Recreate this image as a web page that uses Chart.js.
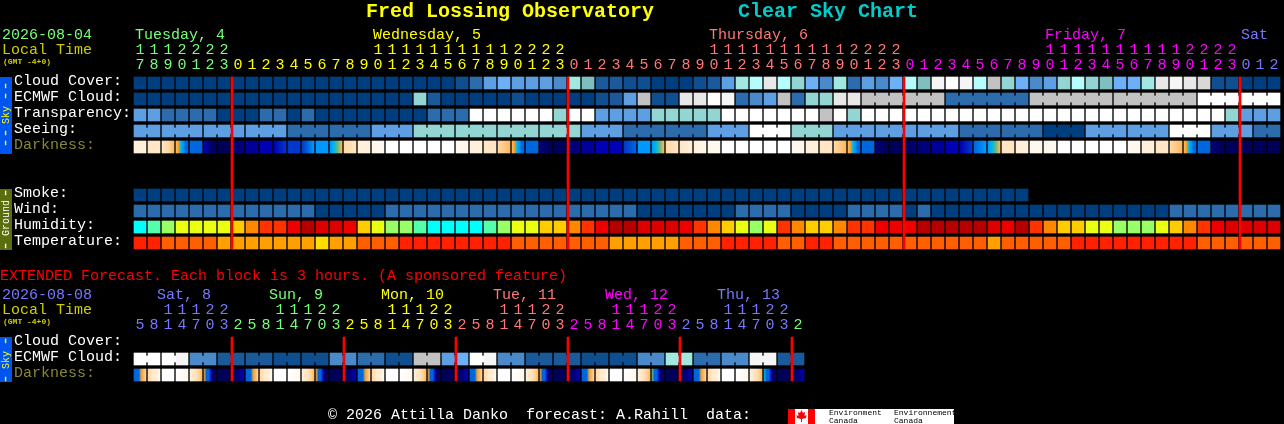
<!DOCTYPE html>
<html><head><meta charset="utf-8">
<style>html,body{margin:0;padding:0;background:#000;overflow:hidden}canvas{display:block}</style>
<script src="https://cdn.jsdelivr.net/npm/chart.js@4"></script>
</head><body><canvas id="c" width="1284" height="424"></canvas>
<script>
// ---- data: sky levels index skyPalette ----
const cloudCover=[0,0,0,0,0,0,0,0,0,0,0,0,0,0,0,0,0,0,0,0,0,0,0,1,3,5,6,5,5,5,4,9,7,2,2,1,1,0,0,0,1,2,5,9,10,13,10,8,6,4,9,3,5,4,6,10,7,14,15,14,10,11,8,6,4,5,8,10,8,7,6,6,9,13,14,13,12,1,1,0,0,0];
const ecmwfCloud=[0,0,0,0,0,0,0,0,0,0,0,0,0,0,0,0,0,0,0,0,8,2,0,0,0,0,0,1,0,0,0,0,0,1,2,5,11,1,1,13,13,15,14,3,4,5,11,3,8,8,13,13,11,11,11,11,11,11,3,3,3,3,3,3,11,11,11,11,11,11,11,11,11,11,11,11,15,15,15,15,15,15];
const transparency=[5,5,3,3,3,3,0,0,0,3,3,0,3,0,0,0,0,0,0,0,0,3,3,3,15,15,15,15,15,15,8,15,15,5,5,5,5,8,8,8,8,8,15,15,15,15,15,15,15,11,15,8,15,15,15,15,15,15,15,15,15,15,15,15,15,15,15,15,15,15,15,15,15,15,15,15,15,15,8,5,5,5];
const seeing=[5,5,5,5,5,5,5,5,5,5,5,3,3,3,3,3,3,5,5,5,8,8,8,8,8,8,8,8,8,8,8,8,5,5,5,3,3,3,3,3,3,5,5,5,15,15,15,8,8,8,5,5,5,5,5,5,5,5,5,3,3,3,3,3,3,0,0,0,5,5,5,5,5,5,15,15,15,5,5,5,3,3];
const smoke=[0,0,0,0,0,0,0,0,0,0,0,0,0,0,0,0,0,0,0,0,0,0,0,0,0,0,0,0,0,0,0,0,0,0,0,0,0,0,0,0,0,0,0,0,0,0,0,0,0,0,0,0,0,0,0,0,0,0,0,0,0,0,0,0];
const wind=[3,3,3,3,3,3,3,3,3,3,3,3,3,0,0,0,0,0,3,3,3,3,3,3,3,3,3,3,3,3,3,3,3,3,3,3,0,0,0,0,0,0,0,3,3,3,3,0,0,0,0,3,3,3,3,0,3,0,0,0,0,0,0,0,0,0,0,0,0,0,0,0,0,0,3,3,3,3,3,3,3,3];
// humidity levels index humidityPalette (0 wettest-cool end … 9 dark red)
const humidity=[0,1,2,3,3,3,3,4,5,6,6,7,9,8,8,7,4,3,2,2,1,0,0,0,0,1,2,3,3,4,4,5,6,7,9,9,8,8,8,7,6,5,4,3,2,3,6,5,4,4,5,6,6,7,7,7,9,9,9,9,9,8,7,9,6,5,4,4,3,3,2,2,2,3,4,5,6,7,8,8,8,8];
// temperature levels index temperaturePalette
const temperature=[0,0,1,1,1,1,2,2,2,2,2,2,2,3,2,2,1,1,1,0,0,0,0,0,0,0,0,1,1,1,1,1,1,1,2,2,2,2,2,1,1,1,0,0,0,0,1,1,0,0,1,1,1,1,1,1,1,1,1,1,1,2,1,1,1,1,1,0,0,0,0,0,0,0,0,0,1,1,1,1,1,1];
// darkness: each block lists levels (index darknessPalette) read left to right
const darkness=[[2,2],[3,3],[3,4,5],[5,6,8,9,10,10],[10,10],[12,14,15],[15,15],[14,14],[13,13],[12,12],[12,11],[11,11],[11,10,9],[9,9],[9,8,7,5],[4,3],[2,2],[1,1],[0],[0],[0],[0],[0],[1,1],[2,2],[3,3],[4,5],[5,6,8,9,10,10],[10,10],[14,15],[15,15],[14,14],[13,13],[12,12],[12,12],[11,10],[9,9],[9,8,7,5],[4,3],[3,2],[2,1],[1,1],[0],[0],[0],[0],[0],[1,1],[2,2],[3,3],[4,5],[5,6,8,9,10,10],[10,10],[14,15],[15,15],[15,14],[14,14],[13,13],[12,12],[12,11],[10,9],[9,8,7,5],[3,3],[2,2],[1,1],[1,1],[0],[0],[0],[0],[0],[1,1],[2,2],[3,3],[4,5],[5,6,8,9,10,10],[10,10],[14,15],[15,15],[15,15],[15,15],[15,15]];
const extEcmwf=[15,15,15,14,4,4,2,2,2,2,1,1,1,1,4,4,3,3,1,1,11,11,5,6,15,14,4,4,2,2,2,2,1,1,1,1,4,4,9,9,3,3,4,4,14,14,2,2];
const extDarkness=[[10,10,10,6,5,4],[4,3,2,1],[0],[0,1],[2,3,4,5],[6,10,10,12,15,15],[15,15],[15,14,12],[10,10,10,6,5,4],[4,3,2,1],[0],[0,1],[2,3,4,5],[6,10,10,12,15,15],[15,15],[15,14,12],[10,10,10,6,5,4],[4,3,2,1],[0],[0,1],[2,3,4,5],[6,10,10,12,15,15],[15,15],[15,14,12],[10,10,10,6,5,4],[4,3,2,1],[0],[0,1],[2,3,4,5],[6,10,10,12,15,15],[15,15],[15,14,12],[10,10,10,6,5,4],[4,3,2,1],[0],[0,1],[2,3,4,5],[7,10,10,12,15,15],[15,15],[15,14,12],[10,10,10,6,5,4],[4,3,2,1],[0],[0,1],[2,3,4,5],[8,10,10,12,15,15],[15,15],[15,14,12]];
// time labels
const hoursMain=[7,8,9,0,1,2,3,0,1,2,3,4,5,6,7,8,9,0,1,2,3,4,5,6,7,8,9,0,1,2,3,0,1,2,3,4,5,6,7,8,9,0,1,2,3,4,5,6,7,8,9,0,1,2,3,0,1,2,3,4,5,6,7,8,9,0,1,2,3,4,5,6,7,8,9,0,1,2,3,0,1,2];
const tensMain=['1','1','1','2','2','2','2','','','','','','','','','','','1','1','1','1','1','1','1','1','1','1','2','2','2','2','','','','','','','','','','','1','1','1','1','1','1','1','1','1','1','2','2','2','2','','','','','','','','','','','1','1','1','1','1','1','1','1','1','1','2','2','2','2','','',''];
const hoursExt=[5,8,1,4,7,0,3,2,5,8,1,4,7,0,3,2,5,8,1,4,7,0,3,2,5,8,1,4,7,0,3,2,5,8,1,4,7,0,3,2,5,8,1,4,7,0,3,2];
const tensExt=['','','1','1','1','2','2','','','','1','1','1','2','2','','','','1','1','1','2','2','','','','1','1','1','2','2','','','','1','1','1','2','2','','','','1','1','1','2','2',''];
const daysMain=[['Tuesday, 4',0],['Wednesday, 5',17],['Thursday, 6',41],['Friday, 7',65],['Sat',79]];
const daysExt=[['Sat, 8',2],['Sun, 9',10],['Mon, 10',18],['Tue, 11',26],['Wed, 12',34],['Thu, 13',42]];
const dayStartsMain=[0,7,31,55,79];
const dayStartsExt=[0,7,15,23,31,39,47];
const midnightsMain=[7,31,55,79];
const midnightsExt=[7,15,23,31,39,47];
const rowLabels=['Cloud Cover:','ECMWF Cloud:','Transparency:','Seeing:','Darkness:'];
const groundLabels=['Smoke:','Wind:','Humidity:','Temperature:'];
const extLabels=['Cloud Cover:','ECMWF Cloud:','Darkness:'];

// ---- styles ----
const skyPalette=['#003f7f','#0f4f8f','#1a5a9a','#2c6cad','#4a8acb','#5e9fe3','#6eb0f8','#7fbfbf','#93d5d3','#a0e8e0','#b5fdfd','#c2c2c2','#d8d8d8','#e8e8e8','#f5f5f5','#ffffff'];
const humidityPalette=['#00ffff','#55ffaa','#99ff66','#eaff11','#ffcc00','#ff8800','#ff3300','#ee0000','#dd0000','#b60000'];
const temperaturePalette=['#ff2200','#ff5f00','#ffa000','#ffdd00'];
const darknessPalette=['#ffffff','#fff8ee','#fff0dc','#ffe6c4','#ffd8a8','#ffb860','#f0a030','#70b878','#00b8e8','#0098ff','#0066dd','#0038cc','#0000b4','#000098','#000078','#000058'];
const dayColors=['#77ff77','#ffff00','#ff7777','#ff00ff','#7777ff'];
const dayColorsExt=['#7777ff','#77ff77','#ffff00','#ff7777','#ff00ff','#7777ff','#77ff77'];
const MONO='"Liberation Mono"';
const FONT='15px '+MONO;

const rowH=0.375, linkH=0.1875;
const R={cloud:0,ecmwf:1,transp:2,seeing:3,dark:4,smoke:7,wind:8,hum:9,temp:10,xEcmwf:17.25,xDark:18.25};

function row(values,y,palette){
  return {data:values.map((v,i)=>({x:i,y:[y-rowH,y+rowH]})),
    backgroundColor:values.map(v=>palette[v]),barThickness:12,borderWidth:0,order:5};
}
function links(values,y,palette,pairs){
  return {data:pairs.map(i=>({x:i+0.5,y:[y-linkH,y+linkH]})),
    backgroundColor:pairs.map(i=>palette[values[i]]),barThickness:2,borderWidth:0,order:5};
}
function gradientRow(cells,y){
  return {data:cells.map((c,i)=>({x:i,y:[y-rowH,y+rowH]})),barThickness:12,borderWidth:0,order:5,
    backgroundColor:(ctx)=>{
      const ch=ctx.chart, sx=ch.scales.x, c=cells[ctx.dataIndex];
      if(!sx||!c) return '#000';
      if(c.length===1) return darknessPalette[c[0]];
      const px=sx.getPixelForValue(ctx.dataIndex);
      if(!Number.isFinite(px)) return darknessPalette[c[0]];
      const g=ch.ctx.createLinearGradient(px-6,0,px+6,0);
      c.forEach((v,k)=>g.addColorStop(k/(c.length-1),darknessPalette[v]));
      return g;
    }};
}
function redLines(ids,y0,y1){
  return {data:ids.map(i=>({x:i-3/7,y:[y0,y1]})),backgroundColor:'#ff0000',barThickness:2,borderWidth:0,order:1};
}
const seeingPairs=seeing.map((_,i)=>i).filter(i=>i<81&&i%3!==1);
const ecmwfPairs=ecmwfCloud.map((_,i)=>i).filter(i=>i>=52&&i<81&&(i-52)%6!==5);
const extPairs=extEcmwf.map((_,i)=>i).filter(i=>i%2===0);

const datasets=[
 row(cloudCover,R.cloud,skyPalette),
 row(ecmwfCloud,R.ecmwf,skyPalette),
 links(ecmwfCloud,R.ecmwf,skyPalette,ecmwfPairs),
 row(transparency,R.transp,skyPalette),
 row(seeing,R.seeing,skyPalette),
 links(seeing,R.seeing,skyPalette,seeingPairs),
 gradientRow(darkness,R.dark),
 row(smoke,R.smoke,skyPalette),
 row(wind,R.wind,skyPalette),
 row(humidity,R.hum,humidityPalette),
 row(temperature,R.temp,temperaturePalette),
 row(extEcmwf,R.xEcmwf,skyPalette),
 links(extEcmwf,R.xEcmwf,skyPalette,extPairs),
 gradientRow(extDarkness,R.xDark),
 redLines(midnightsMain,-0.375,10.375),
 redLines(midnightsExt,15.875,18.625)
];

function colorFor(i,starts,colors){let k=0;starts.forEach((s,n)=>{if(i>=s)k=n;});return colors[k];}

const textPlugin={id:'text',afterDraw(chart){
  const c=chart.ctx,sx=chart.scales.x;
  const T=(s,x,y,col,font,align)=>{c.font=font||FONT;c.fillStyle=col;c.textAlign=align||'left';c.textBaseline='middle';c.fillText(s,x,y);};
  c.save();
  T('Fred Lossing Observatory',366,12,'#ffff00','bold 20px '+MONO);
  T('Clear Sky Chart',738,12,'#00cccc','bold 20px '+MONO);
  T('2026-08-04',2,35,'#77ff77');
  T('Local Time',2,50,'#cccc00');
  T('(GMT -4+0)',3,62,'#cccc00','bold 8px '+MONO);
  daysMain.forEach(([s,i])=>T(s,sx.getPixelForValue(i)-5,35,colorFor(i,dayStartsMain,dayColors)));
  tensMain.forEach((s,i)=>{if(s)T(s,sx.getPixelForValue(i),50,colorFor(i,dayStartsMain,dayColors),FONT,'center');});
  hoursMain.forEach((s,i)=>T(String(s),sx.getPixelForValue(i),65,colorFor(i,dayStartsMain,dayColors),FONT,'center'));
  rowLabels.forEach((s,k)=>T(s,14,81+16*k,k===4?'#888833':'#ffffff'));
  groundLabels.forEach((s,k)=>T(s,14,193+16*k,'#ffffff'));
  T('EXTENDED Forecast. Each block is 3 hours. (A sponsored feature)',0,276,'#ff0000');
  T('2026-08-08',2,295,'#7777ff');
  T('Local Time',2,310,'#cccc00');
  T('(GMT -4+0)',3,322,'#cccc00','bold 8px '+MONO);
  daysExt.forEach(([s,i])=>T(s,sx.getPixelForValue(i)-11,295,colorFor(i,dayStartsExt,dayColorsExt)));
  tensExt.forEach((s,i)=>{if(s)T(s,sx.getPixelForValue(i),310,colorFor(i,dayStartsExt,dayColorsExt),FONT,'center');});
  hoursExt.forEach((s,i)=>T(String(s),sx.getPixelForValue(i),325,colorFor(i,dayStartsExt,dayColorsExt),FONT,'center'));
  extLabels.forEach((s,k)=>T(s,14,341+16*k,k===2?'#888833':'#ffffff'));
  // side panels
  c.fillStyle='#0055ee';c.fillRect(0,77,12,77);c.fillRect(0,337,12,45);
  c.fillStyle='#5a6e10';c.fillRect(0,189,12,61);
  const V=(s,cy,col,font)=>{c.save();c.translate(6,cy);c.rotate(-Math.PI/2);c.font=font;c.fillStyle=col;c.textAlign='center';c.textBaseline='middle';c.fillText(s,0,0);c.restore();};
  const sm='10px '+MONO, dash='16px '+MONO;
  [86,96,133,143].forEach(y=>V('-',y,'#ffff00',dash));
  V('Sky',115,'#ffff00',sm);
  [193,246].forEach(y=>V('-',y,'#ffffff',dash));
  V('Ground',218,'#ffffff',sm);
  [341,379].forEach(y=>V('-',y,'#ffff00',dash));
  V('Sky',360,'#ffff00',sm);
  // footer
  T('\u00a9 2026 Attilla Danko  forecast: A.Rahill  data:',328,415,'#ffffff');
  c.fillStyle='#ffffff';c.fillRect(788,409,166,15);
  c.fillStyle='#ff0000';c.fillRect(788,409,7,15);c.fillRect(808,409,7,15);
  c.beginPath();[[801.5,410],[803,413],[805,412],[804.5,416],[806.5,415],[806,418],[802,419],[802,422],[801,422],[801,419],[797,418],[796.5,415],[798.5,416],[798,412],[800,413]].forEach((p,i)=>i?c.lineTo(p[0],p[1]):c.moveTo(p[0],p[1]));c.closePath();c.fill();
  const lg='8px '+MONO;
  T('Environment',829,413,'#000000',lg);T('Canada',829,421,'#000000',lg);
  T('Environnement',894,413,'#000000',lg);T('Canada',894,421,'#000000',lg);
  c.restore();
}};

new Chart(document.getElementById('c'),{
  type:'bar',
  data:{datasets},
  plugins:[textPlugin],
  options:{
    responsive:false,animation:false,devicePixelRatio:1,
    layout:{padding:0},
    datasets:{bar:{grouped:false}},
    plugins:{legend:{display:false},tooltip:{enabled:false},title:{display:false}},
    scales:{
      x:{type:'linear',display:false,offset:false,min:-10,max:1144/14,grid:{display:false}},
      y:{type:'linear',display:false,reverse:true,min:-83/16,max:341/16,grid:{display:false}}
    }
  }
});
</script></body></html>
